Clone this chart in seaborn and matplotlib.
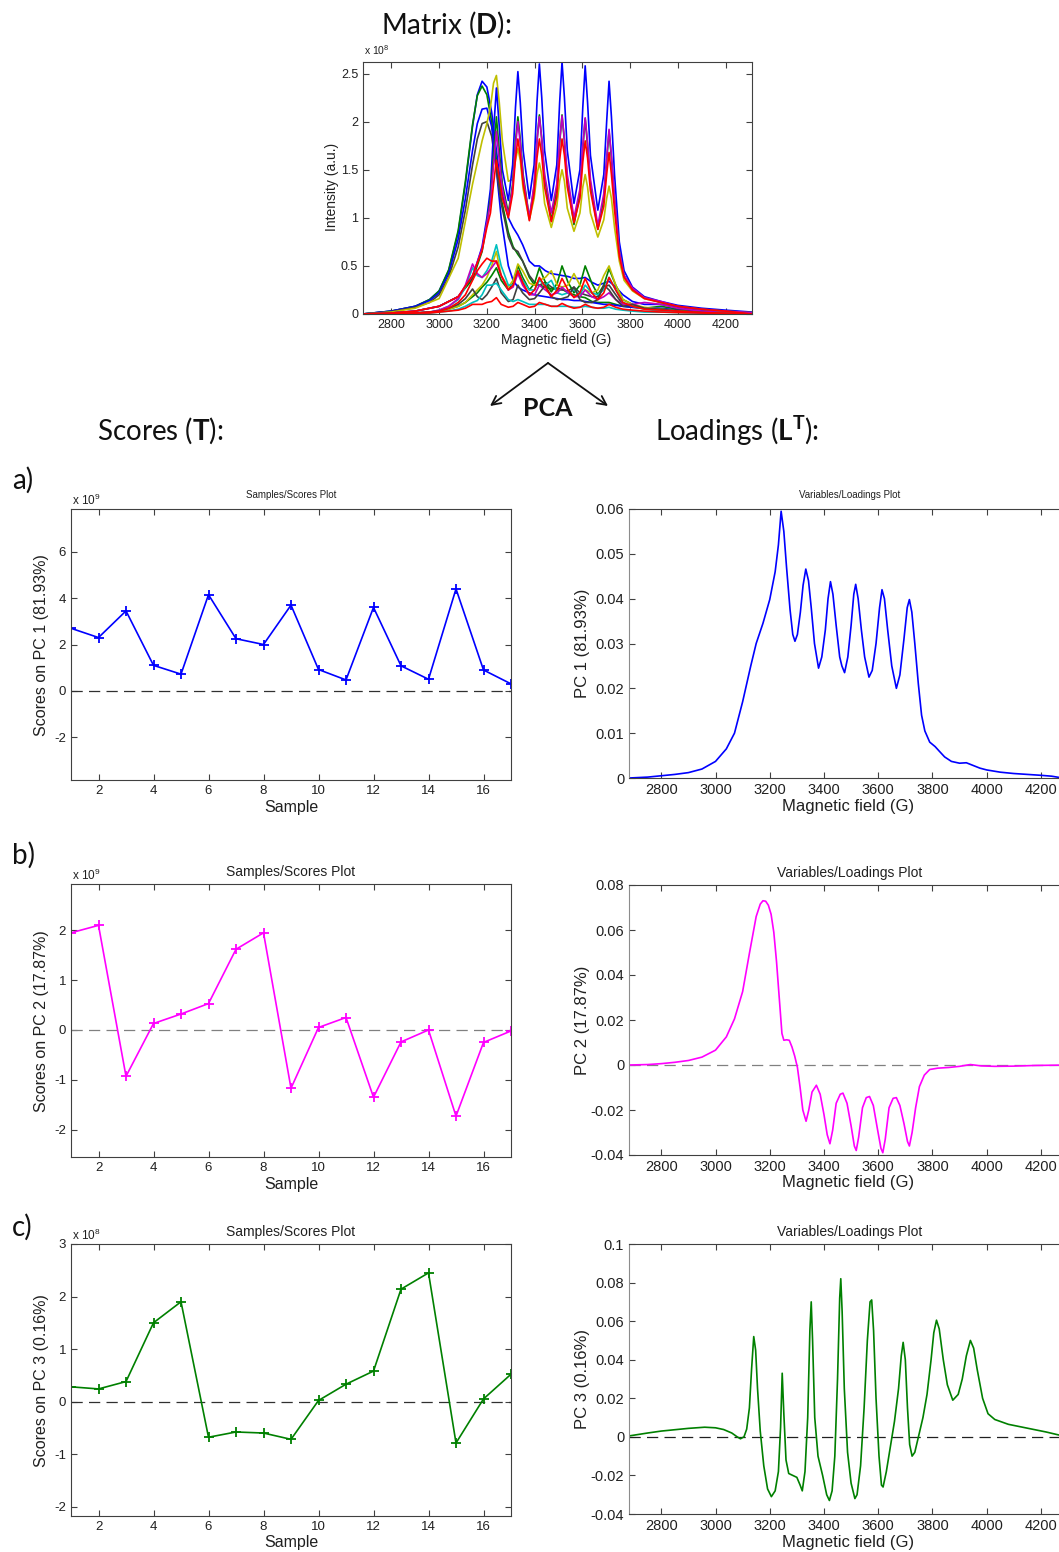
import numpy as np
import pandas as pd
import seaborn as sns
import matplotlib.pyplot as plt
from matplotlib.ticker import FuncFormatter

# ---------------- data ----------------
# matrix D: EPR spectra, intensity in units of 1e8 (field in G)
# broad / weak spectra on a coarse grid
field_D = [2680, 2800, 2900, 2960, 3000, 3040, 3080, 3110, 3140, 3160, 3180, 3200, 3220, 3240,
           3260, 3290, 3310, 3330, 3350, 3378, 3400, 3420, 3445, 3470, 3495, 3515, 3540, 3565,
           3590, 3612, 3640, 3665, 3690, 3712, 3740, 3770, 3810, 3860, 3930, 4000, 4100, 4200, 4310]
# sharp six-line spectra on a finer grid
field_S = [2680, 2800, 2900, 3000, 3080, 3140, 3180, 3200, 3215, 3228, 3240, 3252, 3265, 3290,
           3308, 3320, 3330, 3340, 3352, 3378, 3398, 3410, 3420, 3430, 3442, 3470, 3493, 3505,
           3515, 3525, 3537, 3565, 3590, 3602, 3612, 3622, 3634, 3665, 3690, 3702, 3712, 3722,
           3735, 3755, 3775, 3810, 3860, 3930, 4000, 4100, 4200, 4310]

d_blue_broad = [0, 0.03, 0.08, 0.15, 0.24, 0.45, 0.85, 1.35, 1.95, 2.28, 2.42, 2.36, 2.1, 1.7,
                1.3, 1.0, 0.9, 0.82, 0.72, 0.55, 0.5, 0.5, 0.45, 0.42, 0.41, 0.4, 0.39, 0.37,
                0.37, 0.38, 0.33, 0.3, 0.32, 0.34, 0.28, 0.2, 0.13, 0.1, 0.1, 0.07, 0.04, 0.02, 0.01]
d_green_broad = [0, 0.03, 0.08, 0.15, 0.24, 0.46, 0.87, 1.38, 1.97, 2.27, 2.37, 2.28, 2.0, 1.6,
                 1.2, 0.85, 0.7, 0.62, 0.55, 0.38, 0.3, 0.3, 0.28, 0.26, 0.27, 0.26, 0.22, 0.2,
                 0.18, 0.17, 0.13, 0.12, 0.12, 0.12, 0.1, 0.08, 0.07, 0.06, 0.08, 0.05, 0.03, 0.02, 0.01]
d_blue_broad2 = [0, 0.03, 0.08, 0.14, 0.22, 0.42, 0.78, 1.2, 1.7, 1.98, 2.13, 2.14, 1.95, 1.5,
                 1.0, 0.5, 0.35, 0.28, 0.25, 0.22, 0.2, 0.19, 0.18, 0.17, 0.16, 0.15, 0.15, 0.14,
                 0.14, 0.13, 0.12, 0.11, 0.1, 0.1, 0.09, 0.08, 0.07, 0.06, 0.06, 0.04, 0.03, 0.02, 0.01]
d_gray_broad = [0, 0.025, 0.07, 0.12, 0.2, 0.38, 0.7, 1.08, 1.55, 1.82, 1.98, 2.0, 1.85, 1.5,
                1.15, 0.8, 0.68, 0.65, 0.55, 0.4, 0.33, 0.3, 0.33, 0.28, 0.25, 0.25, 0.24, 0.28,
                0.22, 0.2, 0.18, 0.18, 0.28, 0.3, 0.2, 0.1, 0.08, 0.06, 0.05, 0.04, 0.02, 0.01, 0.005]
d_green_low = [0, 0.005, 0.01, 0.02, 0.03, 0.05, 0.08, 0.12, 0.18, 0.22, 0.28, 0.33, 0.4, 0.48,
               0.35, 0.25, 0.32, 0.5, 0.38, 0.25, 0.32, 0.48, 0.33, 0.23, 0.32, 0.5, 0.33, 0.22,
               0.3, 0.5, 0.32, 0.2, 0.3, 0.47, 0.3, 0.15, 0.1, 0.06, 0.05, 0.03, 0.015, 0.008, 0.0]
d_yellow_low = [0, 0.005, 0.01, 0.02, 0.03, 0.05, 0.08, 0.12, 0.2, 0.25, 0.3, 0.38, 0.5, 0.65,
                0.4, 0.28, 0.35, 0.52, 0.45, 0.32, 0.3, 0.35, 0.38, 0.45, 0.3, 0.28, 0.3, 0.42,
                0.3, 0.25, 0.22, 0.25, 0.4, 0.5, 0.3, 0.15, 0.1, 0.07, 0.05, 0.03, 0.015, 0.008, 0.0]
d_cyan_low = [0, 0.005, 0.01, 0.02, 0.04, 0.08, 0.15, 0.28, 0.48, 0.4, 0.38, 0.45, 0.55, 0.72,
              0.5, 0.3, 0.3, 0.45, 0.35, 0.25, 0.25, 0.35, 0.3, 0.35, 0.22, 0.2, 0.22, 0.25,
              0.2, 0.3, 0.22, 0.2, 0.25, 0.38, 0.25, 0.12, 0.08, 0.05, 0.03, 0.02, 0.01, 0.005, 0.0]
d_red_low = [0, 0.005, 0.01, 0.02, 0.03, 0.06, 0.12, 0.2, 0.35, 0.45, 0.52, 0.58, 0.55, 0.55,
             0.4, 0.25, 0.3, 0.45, 0.33, 0.2, 0.25, 0.38, 0.28, 0.18, 0.25, 0.37, 0.25, 0.17,
             0.22, 0.37, 0.22, 0.15, 0.22, 0.38, 0.25, 0.12, 0.08, 0.05, 0.04, 0.03, 0.015, 0.008, 0.0]
d_magenta_low = [0, 0.005, 0.01, 0.02, 0.04, 0.08, 0.16, 0.3, 0.52, 0.42, 0.38, 0.42, 0.48, 0.55,
                 0.4, 0.25, 0.28, 0.42, 0.3, 0.2, 0.2, 0.3, 0.25, 0.2, 0.22, 0.28, 0.22, 0.18,
                 0.18, 0.25, 0.18, 0.15, 0.18, 0.22, 0.15, 0.1, 0.1, 0.12, 0.1, 0.06, 0.03, 0.01, 0.0]
d_gray_low = [0, 0.005, 0.01, 0.02, 0.03, 0.06, 0.1, 0.16, 0.26, 0.18, 0.15, 0.2, 0.28, 0.37,
              0.22, 0.13, 0.15, 0.3, 0.22, 0.15, 0.16, 0.22, 0.3, 0.18, 0.15, 0.16, 0.18, 0.28,
              0.15, 0.12, 0.12, 0.15, 0.3, 0.25, 0.15, 0.08, 0.1, 0.06, 0.05, 0.03, 0.015, 0.008, 0.0]
d_cyan_flat = [0, 0.005, 0.01, 0.01, 0.02, 0.03, 0.05, 0.08, 0.12, 0.14, 0.2, 0.3, 0.3, 0.32,
               0.25, 0.15, 0.13, 0.15, 0.13, 0.1, 0.1, 0.1, 0.1, 0.08, 0.08, 0.08, 0.08, 0.07,
               0.07, 0.08, 0.07, 0.06, 0.06, 0.07, 0.05, 0.04, 0.03, 0.02, 0.02, 0.015, 0.01, 0.005, 0.0]
d_red_flat = [0, 0.005, 0.01, 0.01, 0.02, 0.03, 0.04, 0.06, 0.1, 0.1, 0.1, 0.12, 0.13, 0.17,
              0.1, 0.07, 0.08, 0.12, 0.1, 0.07, 0.08, 0.12, 0.1, 0.08, 0.08, 0.11, 0.08, 0.06,
              0.07, 0.1, 0.07, 0.06, 0.07, 0.1, 0.07, 0.05, 0.04, 0.03, 0.02, 0.015, 0.01, 0.005, 0.0]

d_yellow = [0, 0.02, 0.06, 0.16, 0.58, 1.35, 1.8, 1.98, 2.15, 2.4,
            2.48, 2.2, 1.8, 1.38, 1.4, 1.6, 1.72, 1.6, 1.3, 0.98,
            1.2, 1.45, 1.57, 1.45, 1.15, 0.9, 1.12, 1.38, 1.5, 1.38,
            1.1, 0.86, 1.05, 1.32, 1.45, 1.32, 1.05, 0.8, 0.98, 1.2,
            1.33, 1.2, 0.9, 0.55, 0.35, 0.24, 0.16, 0.12, 0.08, 0.05, 0.025, 0.01]
d_blue_sharp = [0, 0.01, 0.03, 0.08, 0.18, 0.38, 0.7, 1.0, 1.3, 1.9,
                2.35, 1.95, 1.5, 1.18, 1.55, 2.15, 2.52, 2.2, 1.7, 1.2,
                1.55, 2.2, 2.6, 2.25, 1.7, 1.18, 1.55, 2.2, 2.62, 2.25,
                1.7, 1.15, 1.5, 2.15, 2.58, 2.2, 1.65, 1.08, 1.45, 2.0,
                2.42, 2.05, 1.45, 0.75, 0.45, 0.28, 0.18, 0.13, 0.09, 0.06, 0.04, 0.02]
d_green_sharp = [0, 0.01, 0.03, 0.08, 0.18, 0.36, 0.65, 0.95, 1.2, 1.65,
                 2.05, 1.7, 1.35, 1.05, 1.35, 1.8, 2.05, 1.82, 1.45, 1.0,
                 1.32, 1.8, 2.07, 1.82, 1.42, 0.97, 1.3, 1.78, 2.07, 1.8,
                 1.4, 0.93, 1.25, 1.72, 2.03, 1.75, 1.35, 0.88, 1.2, 1.6,
                 1.9, 1.62, 1.2, 0.65, 0.4, 0.26, 0.17, 0.12, 0.08, 0.05, 0.03, 0.015]
d_magenta_sharp = [0, 0.01, 0.03, 0.08, 0.18, 0.4, 0.68, 0.95, 1.15, 1.55,
                   1.9, 1.6, 1.3, 1.02, 1.32, 1.75, 2.0, 1.78, 1.42, 1.0,
                   1.35, 1.8, 2.05, 1.82, 1.45, 1.05, 1.35, 1.8, 2.06, 1.82,
                   1.45, 1.0, 1.3, 1.75, 2.04, 1.78, 1.4, 0.92, 1.25, 1.62,
                   1.92, 1.65, 1.22, 0.65, 0.4, 0.27, 0.17, 0.13, 0.08, 0.05, 0.03, 0.015]
d_red_sharp = [0, 0.01, 0.03, 0.08, 0.18, 0.4, 0.66, 0.9, 1.05, 1.35,
               1.6, 1.42, 1.2, 1.0, 1.25, 1.62, 1.82, 1.65, 1.35, 0.97,
               1.25, 1.62, 1.82, 1.65, 1.32, 0.96, 1.22, 1.6, 1.82, 1.65,
               1.32, 0.95, 1.2, 1.58, 1.8, 1.62, 1.28, 0.88, 1.12, 1.45,
               1.68, 1.45, 1.08, 0.6, 0.38, 0.25, 0.16, 0.12, 0.08, 0.05, 0.03, 0.0]

# scores (PC1, PC2 in 1e9; PC3 in 1e8)
samples = list(range(1, 18))
scores_pc1 = [2.7, 2.3, 3.45, 1.1, 0.72, 4.15, 2.25, 2.0, 3.7, 0.92, 0.47, 3.6, 1.08, 0.5, 4.4, 0.9, 0.3]
scores_pc2 = [1.95, 2.1, -0.93, 0.13, 0.32, 0.53, 1.62, 1.95, -1.17, 0.05, 0.25, -1.35, -0.24, 0.0, -1.73, -0.25, -0.02]
scores_pc3 = [0.28, 0.24, 0.38, 1.5, 1.9, -0.68, -0.58, -0.6, -0.72, 0.02, 0.33, 0.58, 2.14, 2.45, -0.79, 0.05, 0.52]

# loadings
field_pc1 = [2682, 2750, 2800, 2850, 2900, 2950, 3000, 3040, 3070, 3100, 3130, 3150, 3175, 3200, 3220,
             3232, 3242, 3252, 3262, 3275, 3285, 3293, 3302, 3313, 3323, 3333, 3343, 3353, 3365, 3380,
             3392, 3405, 3415, 3424, 3433, 3445, 3458, 3466, 3476, 3488, 3500, 3510, 3517, 3526, 3538,
             3550, 3566, 3578, 3592, 3605, 3614, 3623, 3635, 3650, 3667, 3680, 3695, 3707, 3715, 3724,
             3735, 3748, 3760, 3772, 3790, 3810, 3825, 3845, 3870, 3900, 3925, 3950, 3975, 4000, 4050,
             4100, 4150, 4200, 4240, 4270, 4311]
loading_pc1 = [0.0, 0.0002, 0.0005, 0.0008, 0.0012, 0.002, 0.0037, 0.0065, 0.010, 0.017, 0.025, 0.030,
               0.0345, 0.0398, 0.046, 0.052, 0.0595, 0.055, 0.047, 0.0375, 0.032, 0.0305, 0.032, 0.037,
               0.043, 0.0466, 0.044, 0.038, 0.030, 0.0245, 0.027, 0.033, 0.040, 0.0438, 0.041, 0.034,
               0.027, 0.025, 0.0235, 0.027, 0.034, 0.041, 0.0432, 0.040, 0.033, 0.027, 0.0225, 0.024,
               0.030, 0.038, 0.042, 0.040, 0.033, 0.025, 0.020, 0.023, 0.031, 0.038, 0.0398, 0.037,
               0.030, 0.021, 0.014, 0.0105, 0.008, 0.007, 0.006, 0.0047, 0.0037, 0.0033, 0.0034,
               0.0028, 0.0022, 0.0018, 0.0013, 0.001, 0.0008, 0.0006, 0.0004, 0.0001, 0.0]

field_pc2 = [2682, 2750, 2800, 2850, 2900, 2950, 3000, 3040, 3070, 3100, 3125, 3150, 3165, 3175, 3185,
             3195, 3205, 3215, 3225, 3235, 3245, 3252, 3262, 3272, 3282, 3292, 3302, 3312, 3322, 3334,
             3344, 3356, 3372, 3386, 3400, 3412, 3422, 3432, 3445, 3460, 3470, 3485, 3500, 3512, 3519,
             3528, 3542, 3556, 3568, 3582, 3598, 3610, 3617, 3626, 3640, 3655, 3667, 3680, 3695, 3708,
             3715, 3725, 3738, 3752, 3770, 3790, 3820, 3860, 3900, 3940, 3980, 4030, 4100, 4180, 4311]
loading_pc2 = [0.0, 0.0002, 0.0006, 0.0012, 0.002, 0.0035, 0.0066, 0.0125, 0.0205, 0.0326, 0.0496,
               0.066, 0.0715, 0.073, 0.0728, 0.071, 0.067, 0.059, 0.046, 0.030, 0.014, 0.011, 0.0112,
               0.011, 0.008, 0.004, -0.001, -0.010, -0.020, -0.025, -0.020, -0.012, -0.009, -0.013,
               -0.022, -0.031, -0.035, -0.029, -0.017, -0.013, -0.0125, -0.017, -0.027, -0.036, -0.038,
               -0.032, -0.019, -0.0145, -0.014, -0.018, -0.029, -0.037, -0.039, -0.033, -0.019, -0.0148,
               -0.0145, -0.018, -0.026, -0.034, -0.036, -0.030, -0.019, -0.0096, -0.0045, -0.002,
               -0.0014, -0.0011, -0.0006, 0.0002, -0.0004, -0.0006, -0.0005, -0.0002, 0.0]

field_pc3 = [2682, 2750, 2800, 2850, 2900, 2960, 3000, 3030, 3060, 3080, 3092, 3105, 3115, 3125, 3133,
             3141, 3148, 3155, 3165, 3178, 3192, 3206, 3220, 3232, 3240, 3246, 3252, 3260, 3270, 3285,
             3300, 3312, 3320, 3330, 3340, 3348, 3353, 3358, 3366, 3378, 3395, 3410, 3420, 3430, 3440,
             3450, 3458, 3462, 3467, 3475, 3487, 3500, 3514, 3522, 3535, 3548, 3560, 3570, 3576, 3583,
             3592, 3603, 3612, 3618, 3630, 3645, 3660, 3675, 3685, 3692, 3700, 3708, 3716, 3725, 3735,
             3750, 3765, 3780, 3795, 3805, 3815, 3825, 3840, 3855, 3875, 3895, 3910, 3925, 3940, 3952,
             3965, 3985, 4005, 4030, 4080, 4150, 4220, 4265, 4311]
loading_pc3 = [0.0005, 0.002, 0.003, 0.0037, 0.0044, 0.005, 0.0047, 0.0038, 0.002, 0.0, -0.001, 0.0,
               0.004, 0.015, 0.035, 0.052, 0.045, 0.025, 0.003, -0.015, -0.027, -0.031, -0.028, -0.018,
               0.005, 0.033, 0.012, -0.012, -0.019, -0.020, -0.021, -0.025, -0.028, -0.018, 0.010,
               0.055, 0.070, 0.050, 0.010, -0.010, -0.020, -0.030, -0.033, -0.028, -0.010, 0.030,
               0.072, 0.082, 0.065, 0.025, -0.008, -0.024, -0.032, -0.030, -0.015, 0.015, 0.050,
               0.070, 0.071, 0.055, 0.020, -0.010, -0.025, -0.026, -0.018, -0.005, 0.008, 0.025,
               0.042, 0.049, 0.040, 0.015, -0.004, -0.010, -0.008, 0.001, 0.010, 0.022, 0.040, 0.054,
               0.0605, 0.056, 0.040, 0.027, 0.019, 0.022, 0.030, 0.042, 0.050, 0.046, 0.035, 0.020,
               0.012, 0.009, 0.0065, 0.0045, 0.0025, 0.001, 0.0]

# ---------------- style ----------------
sns.set_style("ticks")
plt.rcParams['font.family'] = ['Liberation Sans', 'DejaVu Sans']
plt.rcParams['mathtext.fontset'] = 'custom'
plt.rcParams['mathtext.rm'] = 'Liberation Sans'
plt.rcParams['mathtext.bf'] = 'Lato:bold'

W, H = 1059, 1552
fig = plt.figure(figsize=(W / 100, H / 100), dpi=100)
fmt = FuncFormatter(lambda v, p: f'{v:g}')
BLUE, MAG, GREEN = '#0000ff', '#ff00ff', '#008000'


def place(l, t, r, b):
    return fig.add_axes([l / W, 1 - b / H, (r - l) / W, (b - t) / H])


def frame(ax, size, left_col='#404040'):
    ax.tick_params(direction='in', top=True, right=True, length=4, width=0.8,
                   labelsize=size, colors='#404040', labelcolor='#202020')
    for s in ax.spines.values():
        s.set_color('#404040')
        s.set_linewidth(0.8)
    ax.spines['left'].set_color(left_col)
    ax.xaxis.set_major_formatter(fmt)
    ax.yaxis.set_major_formatter(fmt)


def labels(ax, xl, xy_x, yl, xy_y, size):
    ax.set_xlabel(xl, fontsize=size, va='center', color='#202020')
    ax.xaxis.set_label_coords(xy_x[0] / W, 1 - xy_x[1] / H, transform=fig.transFigure)
    ax.set_ylabel(yl, fontsize=size, va='center', color='#202020')
    ax.yaxis.set_label_coords(xy_y[0] / W, 1 - xy_y[1] / H, transform=fig.transFigure)


# ---------------- matrix D ----------------
spectra = {
    'blue_broad': (field_D, d_blue_broad, '#0000ff'), 'green_broad': (field_D, d_green_broad, '#008000'),
    'blue_broad2': (field_D, d_blue_broad2, '#0000ff'), 'gray_broad': (field_D, d_gray_broad, '#404040'),
    'yellow': (field_S, d_yellow, '#bfbf00'), 'blue_sharp': (field_S, d_blue_sharp, '#0000ff'),
    'green_sharp': (field_S, d_green_sharp, '#008000'), 'magenta_sharp': (field_S, d_magenta_sharp, '#bf00bf'),
    'green_low': (field_D, d_green_low, '#008000'), 'yellow_low': (field_D, d_yellow_low, '#bfbf00'),
    'cyan_low': (field_D, d_cyan_low, '#00bfbf'), 'magenta_low': (field_D, d_magenta_low, '#bf00bf'),
    'gray_low': (field_D, d_gray_low, '#404040'), 'cyan_flat': (field_D, d_cyan_flat, '#00bfbf'),
    'red_low': (field_D, d_red_low, '#ff0000'), 'red_flat': (field_D, d_red_flat, '#ff0000'),
    'red_sharp': (field_S, d_red_sharp, '#ff0000'),
}
df_D = pd.concat([pd.DataFrame({'field': f, 'intensity': v, 'spectrum': k})
                  for k, (f, v, c) in spectra.items()])

ax0 = place(363, 62, 752, 314)
sns.lineplot(data=df_D, x='field', y='intensity', hue='spectrum', hue_order=list(spectra),
             palette={k: c for k, (f, v, c) in spectra.items()}, estimator=None, legend=False,
             linewidth=1.2, ax=ax0)
ax0.set_xlim(2681, 4311)
ax0.set_ylim(0, 2.62)
ax0.set_xticks(range(2800, 4201, 200))
ax0.set_yticks([0, 0.5, 1, 1.5, 2, 2.5])
frame(ax0, 9)
labels(ax0, 'Magnetic field (G)', (556, 340), 'Intensity (a.u.)', (332, 187), 10)
fig.text(364 / W, 1 - 50 / H, r'x 10$^{8}$', fontsize=7.5, va='center', color='#202020')

# ---------------- scores ----------------
score_rows = [
    (scores_pc1, BLUE, (509, 780), (-3.85, 7.85), [-2, 0, 2, 4, 6], 'Scores on PC 1 (81.93%)', 9, 7, '#303030'),
    (scores_pc2, MAG, (884, 1157), (-2.55, 2.93), [-2, -1, 0, 1, 2], 'Scores on PC 2 (17.87%)', 9, 10, '#808080'),
    (scores_pc3, GREEN, (1244, 1516), (-2.18, 3.0), [-2, -1, 0, 1, 2, 3], 'Scores on PC 3 (0.16%)', 8, 10, '#303030'),
]
for vals, col, (t, b), ylim, yt, ylab, expo, tsize, dcol in score_rows:
    ax = place(71, t, 511, b)
    ax.axhline(0, color=dcol, lw=0.9, ls=(0, (9, 5)))
    sns.lineplot(x=samples, y=vals, color=col, marker='+', markersize=7,
                 markeredgewidth=1.3, markeredgecolor=col, linewidth=1.2, ax=ax)
    ax.set_xlim(1, 17)
    ax.set_ylim(*ylim)
    ax.set_xticks(range(2, 17, 2))
    ax.set_yticks(yt)
    frame(ax, 9.5)
    ax.set_title('Samples/Scores Plot', fontsize=tsize, color='#202020', pad=8 if tsize < 9 else 6)
    labels(ax, 'Sample', (291, b + 27), ylab, (42, (t + b) / 2 + 1), 11.5)
    fig.text(72 / W, 1 - (t - 9) / H, r'x 10$^{%d}$' % expo, fontsize=8.5, va='center', color='#202020')

# ---------------- loadings ----------------
load_rows = [
    (field_pc1, loading_pc1, BLUE, (509, 778), (0, 0.06), np.arange(0, 0.061, 0.01), 'PC 1 (81.93%)', 7, None),
    (field_pc2, loading_pc2, MAG, (885, 1155), (-0.04, 0.08), np.arange(-0.04, 0.081, 0.02), 'PC 2 (17.87%)', 10, '#808080'),
    (field_pc3, loading_pc3, GREEN, (1244, 1514), (-0.04, 0.1), np.arange(-0.04, 0.101, 0.02), 'PC 3 (0.16%)', 10, '#202020'),
]
for fx, vals, col, (t, b), ylim, yt, ylab, tsize, dcol in load_rows:
    ax = place(629, t, 1071, b)
    if dcol:
        ax.axhline(0, color=dcol, lw=0.9, ls=(0, (9, 5)))
    sns.lineplot(x=fx, y=vals, color=col, linewidth=1.2, ax=ax)
    ax.set_xlim(2681, 4311)
    ax.set_ylim(*ylim)
    ax.set_xticks(range(2800, 4201, 200))
    ax.set_yticks(np.round(yt, 2))
    frame(ax, 10.5, left_col='#8c8c8c')
    ax.set_title('Variables/Loadings Plot', fontsize=tsize, color='#202020',
                 pad=8 if tsize < 9 else 6)
    labels(ax, 'Magnetic field (G)', (848, b + 28), ylab, (582, (t + b) / 2), 12)

# ---------------- headers and arrows ----------------
ov = fig.add_axes([0, 0, 1, 1])
ov.set_xlim(0, W)
ov.set_ylim(H, 0)
ov.axis('off')
head = dict(family=['Lato', 'DejaVu Sans'], fontsize=20, va='center', color='#111111')
ov.text(446, 25, r'Matrix ($\mathbf{D}$):', ha='center', **head)
ov.text(97, 431, r'Scores ($\mathbf{T}$):', ha='left', **head)
ov.text(655, 431, r'Loadings ($\mathbf{L}^{\mathbf{T}}$):', ha='left', **head)
ov.text(548, 408, 'PCA', ha='center', fontweight='bold', family=['Lato', 'DejaVu Sans'],
        fontsize=18, va='center', color='#111111')
for lab, y in [('a)', 480), ('b)', 855), ('c)', 1227)]:
    ov.text(12, y, lab, ha='left', **head)
for tip in [(490, 406), (608, 406)]:
    ov.annotate('', xy=tip, xytext=(548, 363),
                arrowprops=dict(arrowstyle='->', lw=1.3, color='#111111', mutation_scale=16,
                                shrinkA=0, shrinkB=0))

fig.savefig('out.png', dpi=100)
